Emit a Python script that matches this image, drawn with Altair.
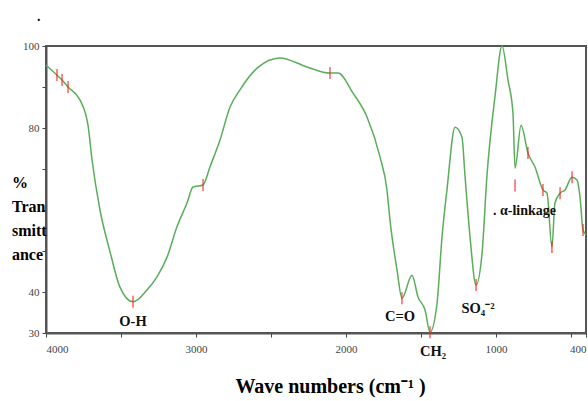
import altair as alt
import pandas as pd

# FTIR spectrum (wavenumber cm-1, % transmittance)
wavenumber = [4000, 3927, 3893, 3853, 3773, 3720, 3693, 3640, 3573, 3507, 3420, 3327, 3260,
              3193, 3127, 3060, 3020, 2953, 2907, 2840, 2773, 2707, 2593, 2440, 2260, 2107,
              2053, 1953, 1860, 1773, 1727, 1707, 1660, 1627, 1560, 1520, 1473, 1440, 1393,
              1360, 1327, 1273, 1227, 1207, 1173, 1133, 1093, 1060, 1007, 960, 920, 887, 873,
              833, 787, 740, 687, 660, 627, 607, 573, 540, 493, 460, 440, 420, 400]
transmittance = [95.3, 92.9, 91.7, 90.0, 86.8, 80.7, 72.2, 60.0, 49.8, 41.2, 37.6, 40.5, 43.7,
                 48.5, 55.9, 61.7, 65.6, 66.1, 70.5, 77.1, 85.1, 89.3, 94.6, 97.1, 94.9, 93.4,
                 93.4, 88.5, 82.7, 72.9, 64.9, 57.6, 45.4, 38.5, 44.1, 38.8, 35.6, 30.2, 37.3,
                 53.4, 64.9, 80.2, 77.8, 68.5, 53.4, 41.7, 49.5, 68.5, 87.6, 100.0, 91.7, 83.7, 70.2,
                 80.7, 73.9, 70.5, 64.9, 64.1, 51.0, 61.7, 64.1, 64.9, 68.0, 67.3, 63.2, 55.1, 53.9]

# picked peaks (red markers)
peak_x = [3927, 3893, 3853, 3420, 2953, 2107, 1627, 1440, 1133, 873, 787, 687, 627, 573, 493, 420]
peak_y = [92.9, 91.7, 90.0, 37.6, 66.1, 93.4, 38.5, 30.2, 41.7, 66.0, 73.9, 64.9, 51.0, 64.1, 68.0, 55.1]

# band annotations
label_text = ["O-H", "C=O", "CH₂", "SO₄⁻²"]
label_x = [3420, 1640, 1420, 1120]
label_y = [32.7, 33.9, 25.4, 35.9]

link_text = [". α-linkage", "."]
link_x = [1020, 4060]
link_y = [59.8, 107.0]

# y-axis title, written as a stacked block left of the axis
ytitle_text = ["%\nTran\nsmitt\nance"]
ytitle_x = [4227]
ytitle_y = [65.4]

y_ticks = [30, 40, 50, 60, 70, 80, 90, 100]
x_ticks = [4000, 3500, 3000, 2500, 2000, 1500, 1000, 500, 400]

spec = pd.DataFrame({"w": wavenumber, "t": transmittance})
peaks = pd.DataFrame({"w": peak_x, "t": peak_y})
labels = pd.DataFrame({"w": label_x, "t": label_y, "txt": label_text})
links = pd.DataFrame({"w": link_x, "t": link_y, "txt": link_text})
ytitle = pd.DataFrame({"w": ytitle_x, "t": ytitle_y, "txt": ytitle_text})

xscale = alt.Scale(domain=[400, 4000], reverse=True, nice=False, zero=False)
yscale = alt.Scale(domain=[30, 100], nice=False, zero=False)

xaxis = alt.Axis(
    values=x_ticks,
    labelExpr="datum.value == 3500 || datum.value == 2500 || datum.value == 1500 || datum.value == 500 ? '' : datum.label",
    title="Wave numbers (cm⁻¹ )",
    titleFont="Liberation Serif", titleFontSize=20, titleFontWeight="bold", titleColor="#000",
    titleX=284, titleY=59, titleAlign="center", titleBaseline="alphabetic", titleLimit=400,
    grid=False, format="d",
    labelFont="Liberation Sans Narrow", labelFontSize=11, labelColor="#444", labelPadding=6,
    tickSize=4, tickColor="#444", domainColor="#555", domainWidth=2,
)
yaxis = alt.Axis(
    values=y_ticks,
    labelExpr="datum.value == 100 || datum.value == 80 || datum.value == 40 || datum.value == 30 ? datum.label : ''",
    title=None,
    grid=False,
    labelFont="Liberation Sans Narrow", labelFontSize=11, labelColor="#444", labelPadding=3,
    tickSize=4, tickColor="#444", domainColor="#555", domainWidth=2,
)

line = alt.Chart(spec).mark_line(color="#5aad5a", strokeWidth=1.5, interpolate="monotone").encode(
    x=alt.X("w:Q", scale=xscale, axis=xaxis),
    y=alt.Y("t:Q", scale=yscale, axis=yaxis),
)

marks = alt.Chart(peaks).mark_tick(color="#ff1a1a", orient="vertical", size=12, thickness=1.5).encode(
    x=alt.X("w:Q", scale=xscale),
    y=alt.Y("t:Q", scale=yscale),
)

ann = alt.Chart(labels).mark_text(font="Liberation Serif", fontSize=14.5, fontWeight="bold",
                                  color="#111", align="center", baseline="middle").encode(
    x=alt.X("w:Q", scale=xscale),
    y=alt.Y("t:Q", scale=yscale),
    text="txt:N",
)

link = alt.Chart(links).mark_text(font="Liberation Serif", fontSize=14, fontWeight="bold",
                                  color="#111", align="left", baseline="middle").encode(
    x=alt.X("w:Q", scale=xscale),
    y=alt.Y("t:Q", scale=yscale),
    text="txt:N",
)

ytl = alt.Chart(ytitle).mark_text(font="Liberation Serif", fontSize=16, fontWeight="bold",
                                  color="#000", align="left", baseline="alphabetic",
                                  lineBreak="\n", lineHeight=24).encode(
    x=alt.X("w:Q", scale=xscale),
    y=alt.Y("t:Q", scale=yscale),
    text="txt:N",
)

chart = alt.layer(line, marks, ann, link, ytl).properties(
    width=540, height=287,
    autosize=alt.AutoSizeParams(type="none"),
    padding={"left": 46, "top": 46, "right": 2, "bottom": 68},
    background="white",
).configure_view(stroke="#555", strokeWidth=2)

chart.save("out.html", embed_options={"renderer": "svg", "actions": False})
